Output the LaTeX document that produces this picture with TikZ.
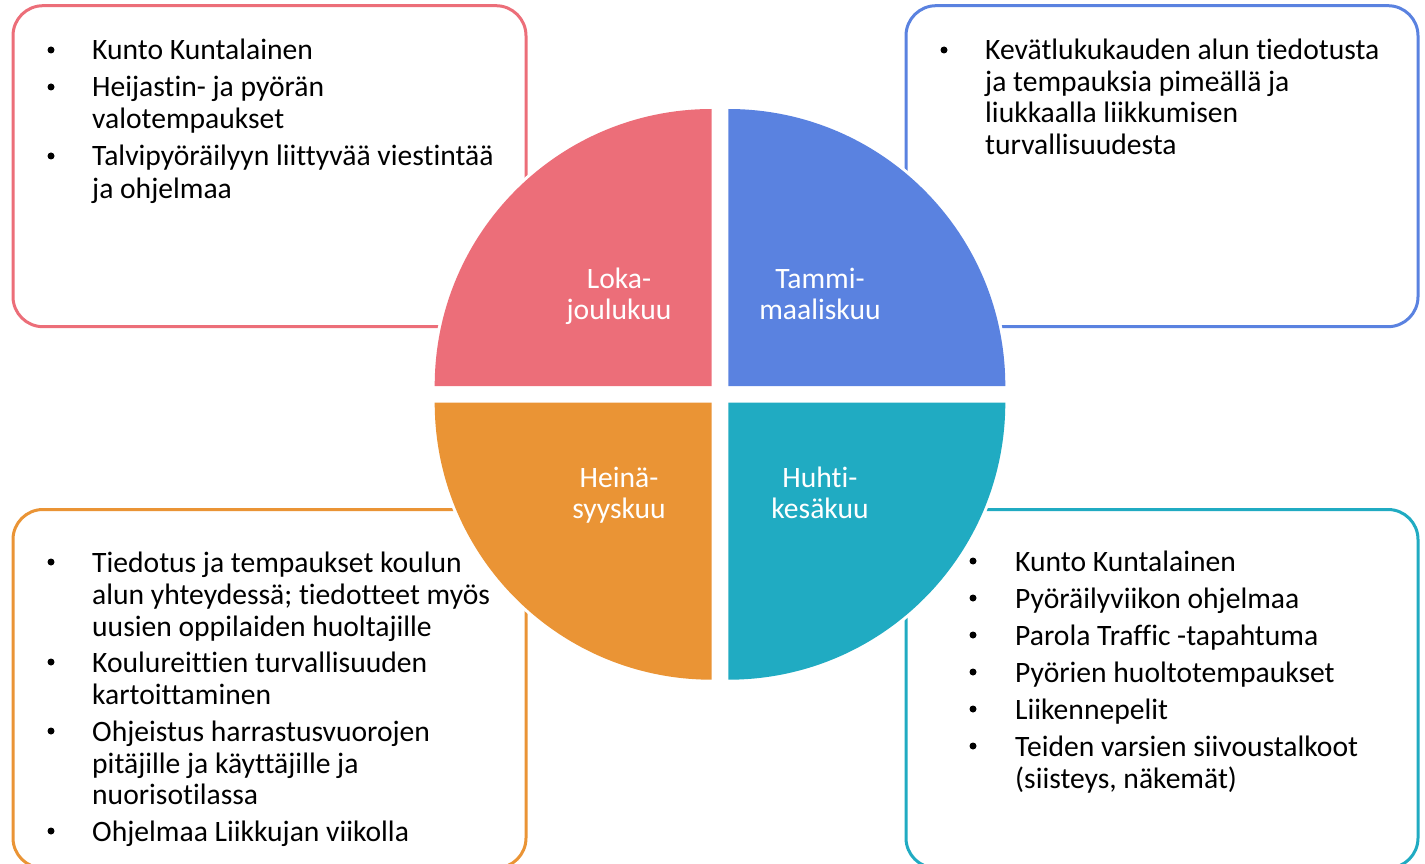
\documentclass[tikz,border=0pt]{standalone}
\usepackage{fontspec}
\setmainfont{Carlito}[Ligatures=NoCommon]
\definecolor{cpink}{HTML}{EC6E79}
\definecolor{cblue}{HTML}{5A82E0}
\definecolor{corange}{HTML}{EA9435}
\definecolor{cteal}{HTML}{20ABC2}
\tikzset{
  box/.style={line width=3pt, rounded corners=30pt, fill=white},
  gapline/.style={white, line width=6pt},
  txt/.style={anchor=base west, inner sep=0pt, font=\fontsize{29.6}{32}\selectfont, text=black},
  bul/.style={circle, fill=black, inner sep=0pt, minimum size=7pt},
  lab/.style={anchor=base, inner sep=0pt, font=\fontsize{29.6}{32}\selectfont, text=white}
}
\begin{document}
\begin{tikzpicture}[x=1pt,y=1pt]
\useasboundingbox (0,0) rectangle (1425,-864);
% boxes
\draw[box, draw=cpink] (13,-5.7) rectangle (526,-326.7);
\draw[box, draw=cblue] (906,-5.7) rectangle (1418,-326.7);
\draw[box, draw=corange] (13,-509.5) rectangle (526,-868);
\draw[box, draw=cteal] (906,-509.5) rectangle (1418,-868);
% white outlines of the quadrants
\draw[gapline] (434.7,-386) arc[start angle=180, end angle=90, radius=277];
\draw[gapline] (728.3,-109) arc[start angle=90, end angle=0, radius=277];
\draw[gapline] (434.7,-402.7) arc[start angle=180, end angle=270, radius=277];
\draw[gapline] (1005.3,-402.7) arc[start angle=0, end angle=-90, radius=277];
% quadrants
\fill[cpink] (711.7,-386) -- (434.7,-386) arc[start angle=180, end angle=90, radius=277] -- cycle;
\fill[cblue] (728.3,-386) -- (728.3,-109) arc[start angle=90, end angle=0, radius=277] -- cycle;
\fill[corange] (711.7,-402.7) -- (434.7,-402.7) arc[start angle=180, end angle=270, radius=277] -- cycle;
\fill[cteal] (728.3,-402.7) -- (1005.3,-402.7) arc[start angle=0, end angle=-90, radius=277] -- cycle;
% quadrant labels
\node[lab] (l1a) at (619,-288) {Loka-};
\node[lab] (l1b) at (619,-319) {joulukuu};
\node[lab] (l2a) at (820,-288) {Tammi-};
\node[lab] (l2b) at (820,-319) {maaliskuu};
\node[lab] (l3a) at (619,-487.5) {Heinä-};
\node[lab] (l3b) at (619,-518.5) {syyskuu};
\node[lab] (l4a) at (820,-487.5) {Huhti-};
\node[lab] (l4b) at (820,-518.5) {kesäkuu};
% pink box text
\foreach \y [count=\i] in {60,97,166} \node[bul] (pb\i) at (51,-\y+10) {};
\foreach \t/\y [count=\i] in {Kunto Kuntalainen/60, Heijastin- ja pyörän/97, valotempaukset/129, Talvipyöräilyyn liittyvää viestintää/166, ja ohjelmaa/198}
  \node[txt] (pt\i) at (92,-\y) {\t};
% blue box text
\node[bul] (bb1) at (944,-50) {};
\foreach \t/\y [count=\i] in {Kevätlukukauden alun tiedotusta/60, ja tempauksia pimeällä ja/92, liukkaalla liikkumisen/123, turvallisuudesta/155}
  \node[txt] (bt\i) at (985,-\y) {\t};
% orange box text
\foreach \y [count=\i] in {572,672,741,841} \node[bul] (ob\i) at (51,-\y+10) {};
\foreach \t/\y [count=\i] in {Tiedotus ja tempaukset koulun/572, alun yhteydessä; tiedotteet myös/604, uusien oppilaiden huoltajille/636, Koulureittien turvallisuuden/672, kartoittaminen/704, Ohjeistus harrastusvuorojen/741, pitäjille ja käyttäjille ja/773, nuorisotilassa/804, Ohjelmaa Liikkujan viikolla/841}
  \node[txt] (ot\i) at (92,-\y) {\t};
% teal box text
\foreach \y [count=\i] in {571,608,645,682,719,756} \node[bul] (tb\i) at (973,-\y+10) {};
\foreach \t/\y [count=\i] in {Kunto Kuntalainen/571, Pyöräilyviikon ohjelmaa/608, Parola Traffic -tapahtuma/645, Pyörien huoltotempaukset/682, Liikennepelit/719, Teiden varsien siivoustalkoot/756, {(siisteys, näkemät)}/788}
  \node[txt] (tt\i) at (1015,-\y) {\t};
\end{tikzpicture}
\end{document}
